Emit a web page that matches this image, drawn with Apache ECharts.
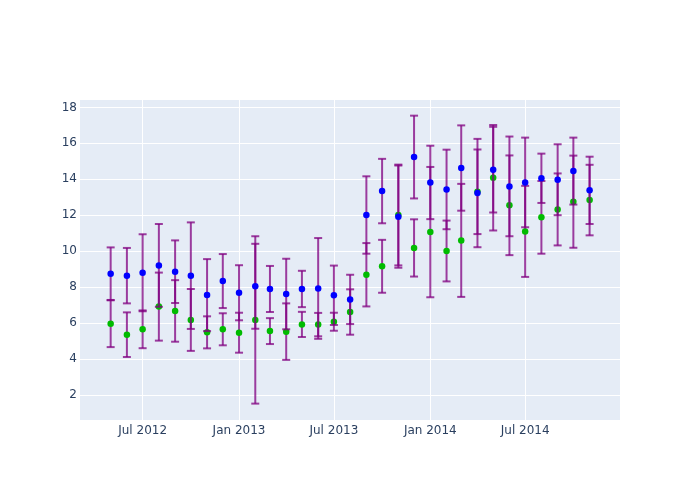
<!DOCTYPE html>
<html>
<head>
<meta charset="utf-8">
<script src="https://cdn.jsdelivr.net/npm/echarts@6/dist/echarts.min.js"></script>
<style>html,body{margin:0;padding:0;background:#fff}#chart{width:700px;height:500px}</style>
</head>
<body>
<div id="chart"></div>
<script>
// monthly observation dates (first of month)
const dates = ['2012-05','2012-06','2012-07','2012-08','2012-09','2012-10','2012-11','2012-12',
  '2013-01','2013-02','2013-03','2013-04','2013-05','2013-06','2013-07','2013-08','2013-09','2013-10','2013-11','2013-12',
  '2014-01','2014-02','2014-03','2014-04','2014-05','2014-06','2014-07','2014-08','2014-09','2014-10','2014-11'];
const blueValues = [8.76, 8.65, 8.81, 9.22, 8.87, 8.65, 7.57, 8.35, 7.70, 8.06, 7.91, 7.63, 7.91, 7.94, 7.56, 7.33, 12.02, 13.35, 11.93, 15.24, 13.83, 13.44, 14.63, 13.24, 14.54, 13.61, 13.83, 14.06, 13.98, 14.46, 13.39];
const blueErrors = [1.46, 1.54, 2.14, 2.30, 1.74, 2.96, 2.00, 1.50, 1.53, 2.36, 1.28, 1.96, 1.01, 2.80, 1.65, 1.37, 2.15, 1.79, 2.84, 2.30, 2.04, 2.21, 2.37, 3.01, 2.38, 2.77, 2.49, 1.37, 1.97, 1.86, 1.87];
const greenValues = [5.98, 5.37, 5.67, 6.93, 6.69, 6.19, 5.50, 5.67, 5.48, 6.19, 5.57, 5.54, 5.94, 5.93, 6.09, 6.63, 8.70, 9.17, 12.02, 10.19, 11.07, 10.02, 10.61, 13.31, 14.09, 12.56, 11.11, 11.89, 12.33, 12.76, 12.85];
const greenErrors = [1.30, 1.24, 1.05, 1.89, 1.71, 1.72, 0.89, 0.89, 1.11, 4.65, 0.72, 1.57, 0.70, 0.65, 0.50, 1.26, 1.76, 1.47, 2.80, 1.59, 3.62, 1.69, 3.14, 2.35, 2.93, 2.77, 2.53, 2.02, 2.00, 2.56, 1.96];
const xTickDates = ['2012-07','2013-01','2013-07','2014-01','2014-07'];
const xTickLabels = ['Jul 2012','Jan 2013','Jul 2013','Jan 2014','Jul 2014'];
const yTicks = [2, 4, 6, 8, 10, 12, 14, 16, 18];

function toTime(s) { const p = s.split('-'); return new Date(+p[0], +p[1] - 1, p[2] ? +p[2] : 1).getTime(); }
const xMin = new Date(2012, 2, 3, 12).getTime();
const xMax = new Date(2014, 11, 29).getTime();
const xTickTimes = xTickDates.map(toTime);

function pts(vals) { return dates.map((d, i) => [toTime(d), vals[i]]); }
function errs(vals, e) { return dates.map((d, i) => [toTime(d), vals[i] - e[i], vals[i] + e[i]]); }

function errRender(params, api) {
  const x = api.value(0);
  const lo = api.coord([x, api.value(1)]);
  const hi = api.coord([x, api.value(2)]);
  const hw = 4;
  const style = { stroke: 'rgba(128,0,128,0.75)', lineWidth: 2, fill: null };
  return {
    type: 'group',
    children: [
      { type: 'line', shape: { x1: lo[0], y1: lo[1], x2: hi[0], y2: hi[1] }, style },
      { type: 'line', shape: { x1: lo[0] - hw, y1: lo[1], x2: lo[0] + hw, y2: lo[1] }, style },
      { type: 'line', shape: { x1: hi[0] - hw, y1: hi[1], x2: hi[0] + hw, y2: hi[1] }, style }
    ]
  };
}

const font = '"DejaVu Sans", verdana, arial, sans-serif';
const chart = echarts.init(document.getElementById('chart'), null, { renderer: 'canvas' });
chart.setOption({
  animation: false,
  backgroundColor: '#ffffff',
  grid: { left: 80, right: 80, top: 100, bottom: 80, show: true, backgroundColor: '#E5ECF6', borderWidth: 0 },
  xAxis: {
    type: 'value', min: xMin, max: xMax, scale: true,
    axisLine: { show: false }, axisTick: { show: false, customValues: xTickTimes },
    splitLine: { show: true, lineStyle: { color: '#ffffff', width: 1 } },
    axisLabel: {
      customValues: xTickTimes, color: '#2a3f5f', fontSize: 12, fontFamily: font, margin: 5,
      formatter: v => { const i = xTickTimes.indexOf(v); return i >= 0 ? xTickLabels[i] : ''; }
    }
  },
  yAxis: {
    type: 'value', min: 0.63, max: 18.41,
    axisLine: { show: false }, axisTick: { show: false, customValues: yTicks },
    splitLine: { show: true, lineStyle: { color: '#ffffff', width: 1 } },
    axisLabel: { customValues: yTicks, color: '#2a3f5f', fontSize: 12, fontFamily: font, margin: 3 }
  },
  series: [
    { type: 'custom', renderItem: errRender, data: errs(greenValues, greenErrors), encode: { x: 0, y: [1, 2] }, z: 2 },
    { type: 'scatter', data: pts(greenValues), symbolSize: 6.5, itemStyle: { color: '#00bb00', opacity: 1 }, z: 3 },
    { type: 'custom', renderItem: errRender, data: errs(blueValues, blueErrors), encode: { x: 0, y: [1, 2] }, z: 4 },
    { type: 'scatter', data: pts(blueValues), symbolSize: 6.5, itemStyle: { color: '#0000ff', opacity: 1 }, z: 5 }
  ]
});
</script>
</body>
</html>
